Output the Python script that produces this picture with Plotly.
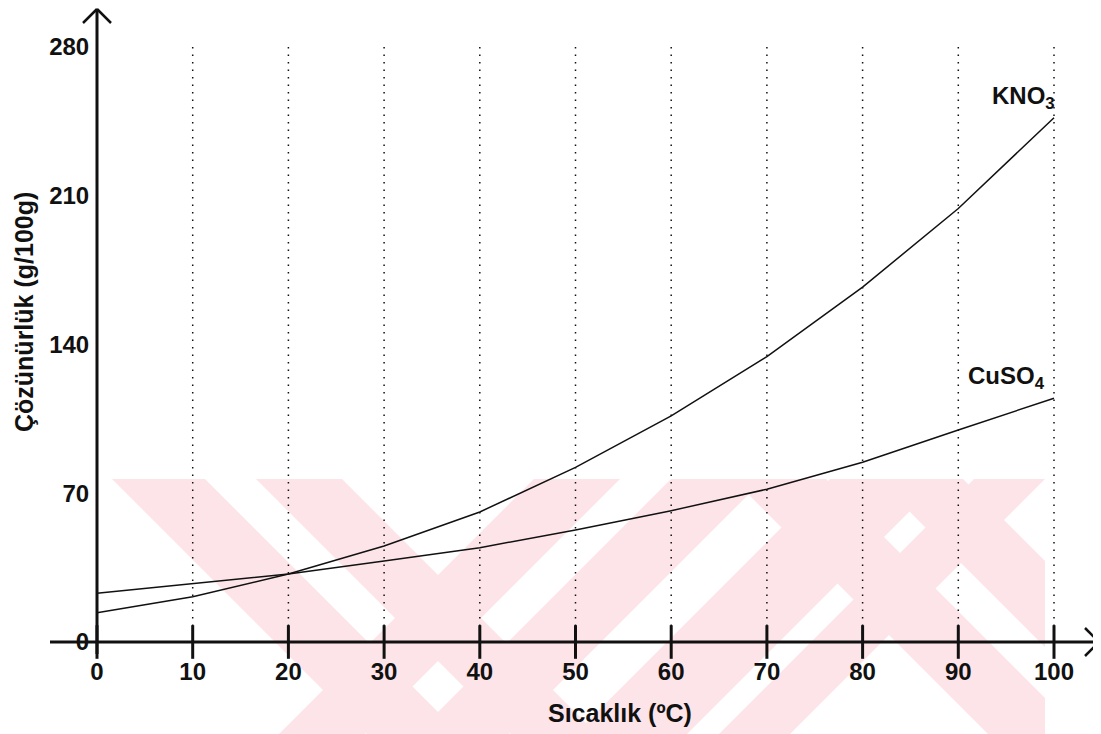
import plotly.graph_objects as go

# ---------------- data ----------------
temps = [0, 10, 20, 30, 40, 50, 60, 70, 80, 90, 100]
kno3 = [13.8, 21.3, 32.0, 45.2, 61.2, 82.2, 106.4, 134.3, 167.0, 204.0, 246.7]
cuso4 = [22.9, 27.3, 32.0, 38.1, 44.4, 52.7, 61.8, 71.9, 84.6, 99.8, 114.7]
x_ticks = [0, 10, 20, 30, 40, 50, 60, 70, 80, 90, 100]
y_ticks = [0, 70, 140, 210, 280]
grid_x = [10, 20, 30, 40, 50, 60, 70, 80, 90, 100]

# ---------------- geometry (page has an 8px body margin) ----------------
OFF = 8
W, H = 1101 - OFF, 734 - OFF
X0PX, XS = 97 - OFF, 9.57      # figure px of x=0, px per unit
Y0PX, YS = 642 - OFF, 2.125    # figure px of y=0, px per unit
xr = [-X0PX / XS, (W - X0PX) / XS]
yr = [-(H - Y0PX) / YS, Y0PX / YS]


def dx(ref_px):
    return (ref_px - OFF - X0PX) / XS


def dy(ref_py):
    return (Y0PX - (ref_py - OFF)) / YS


def px_(ref_px):
    return (ref_px - OFF) / W


def py_(ref_py):
    return 1 - (ref_py - OFF) / H


FONT = "Liberation Sans"
BLACK = "#111111"

fig = go.Figure()

# ---------------- watermark (decorative background) ----------------
def clip_poly(poly, xmin, xmax, ymin, ymax):
    def clip(pts, inside, inter):
        out = []
        for i in range(len(pts)):
            cur, prev = pts[i], pts[i - 1]
            if inside(cur):
                if not inside(prev):
                    out.append(inter(prev, cur))
                out.append(cur)
            elif inside(prev):
                out.append(inter(prev, cur))
        return out

    def ix(xc):
        return lambda p, q: (xc, p[1] + (q[1] - p[1]) * (xc - p[0]) / (q[0] - p[0]))

    def iy(yc):
        return lambda p, q: (p[0] + (q[0] - p[0]) * (yc - p[1]) / (q[1] - p[1]), yc)

    pts = poly
    for inside, inter in [(lambda p: p[0] >= xmin, ix(xmin)), (lambda p: p[0] <= xmax, ix(xmax)),
                          (lambda p: p[1] >= ymin, iy(ymin)), (lambda p: p[1] <= ymax, iy(ymax))]:
        if pts:
            pts = clip(pts, inside, inter)
    return pts


WM_T, WM_B, WM_L, WM_R = 479, 734, 112, 1045
DYW = WM_B - WM_T
SL = 1.0
# (left x at top edge, width, direction: +1 = "\", -1 = "/")
stripes = [
    (112, 93, 1), (256, 86, 1),        # first X, "\" band
    (534, 86, -1), (671, 93, -1),      # first X, "/" band
    (733, 93, 1), (877, 86, 1),        # second X, "\" band
    (830, 112, -1), (974, 71, -1),     # second X, "/" band
]
shapes = []
for a, w, d in stripes:
    poly = [(a, WM_T), (a + w, WM_T), (a + w + d * SL * DYW, WM_B), (a + d * SL * DYW, WM_B)]
    cp = clip_poly(poly, WM_L, WM_R, WM_T, WM_B)
    if len(cp) < 3:
        continue
    path = "M " + " L ".join(f"{px_(x):.5f},{py_(y):.5f}" for x, y in cp) + " Z"
    shapes.append(dict(type="path", path=path, xref="paper", yref="paper",
                       fillcolor="#fde4e8", line=dict(width=0), layer="below"))

# ---------------- dotted verticals ----------------
for gx in grid_x:
    shapes.append(dict(type="line", x0=gx, x1=gx, y0=4, y1=281, xref="x", yref="y",
                       line=dict(color=BLACK, width=1.5, dash="1.5px,6px"), layer="below"))

# ---------------- axes with open arrows ----------------
x_end = dx(1099)
shapes.append(dict(type="line", x0=dx(50), x1=x_end, y0=0, y1=0,
                   line=dict(color=BLACK, width=3)))
ah_x, ah_y = 14 / XS, 14 / YS
shapes.append(dict(type="line", x0=x_end - ah_x, y0=ah_y, x1=x_end, y1=0, line=dict(color=BLACK, width=2.5)))
shapes.append(dict(type="line", x0=x_end - ah_x, y0=-ah_y, x1=x_end, y1=0, line=dict(color=BLACK, width=2.5)))
y_end = dy(9)
shapes.append(dict(type="line", x0=0, x1=0, y0=dy(654), y1=y_end,
                   line=dict(color=BLACK, width=3)))
shapes.append(dict(type="line", x0=-ah_x, y0=y_end - ah_y, x1=0, y1=y_end, line=dict(color=BLACK, width=2.5)))
shapes.append(dict(type="line", x0=ah_x, y0=y_end - ah_y, x1=0, y1=y_end, line=dict(color=BLACK, width=2.5)))

# ---------------- traces ----------------
fig.add_trace(go.Scatter(x=temps, y=kno3, mode="lines", name="KNO3",
                         line=dict(color=BLACK, width=1.5), showlegend=False))
fig.add_trace(go.Scatter(x=temps, y=cuso4, mode="lines", name="CuSO4",
                         line=dict(color=BLACK, width=1.5), showlegend=False))
fig.add_trace(go.Scatter(x=x_ticks, y=[0] * len(x_ticks), mode="markers",
                         marker=dict(symbol="line-ns", size=24,
                                     line=dict(color=BLACK, width=3)),
                         showlegend=False, hoverinfo="skip"))

annotations = [
    dict(x=dx(1023), y=dy(97), xref="x", yref="y", text="KNO<sub>3</sub>", showarrow=False,
         xanchor="center", yanchor="middle",
         font=dict(family=FONT, size=24, color=BLACK, weight="bold")),
    dict(x=dx(1006), y=dy(377), xref="x", yref="y", text="CuSO<sub>4</sub>", showarrow=False,
         xanchor="center", yanchor="middle",
         font=dict(family=FONT, size=24, color=BLACK, weight="bold")),
    dict(x=px_(620), y=py_(713), xref="paper", yref="paper", text="Sıcaklık (ºC)",
         xanchor="center", yanchor="middle", showarrow=False,
         font=dict(family=FONT, size=25, color=BLACK, weight="bold")),
    dict(x=px_(24), y=py_(312), xref="paper", yref="paper", text="Çözünürlük (g/100g)",
         xanchor="center", yanchor="middle", textangle=-90, showarrow=False,
         font=dict(family=FONT, size=25, color=BLACK, weight="bold")),
]

fig.update_layout(
    width=W, height=H,
    margin=dict(l=0, r=0, t=0, b=0),
    paper_bgcolor="white", plot_bgcolor="white",
    shapes=shapes, annotations=annotations,
    xaxis=dict(range=xr, anchor="free", position=(H - Y0PX) / H,
               showline=False, showgrid=False, zeroline=False,
               tickmode="array", tickvals=x_ticks, ticktext=[str(v) for v in x_ticks],
               ticks="outside", ticklen=8, tickcolor="rgba(0,0,0,0)",
               tickfont=dict(family=FONT, size=24, color=BLACK, weight="bold")),
    yaxis=dict(range=yr, anchor="free", position=X0PX / W,
               showline=False, showgrid=False, zeroline=False,
               tickmode="array", tickvals=y_ticks, ticktext=[str(v) for v in y_ticks],
               ticks="outside", ticklen=3, tickcolor="rgba(0,0,0,0)",
               tickfont=dict(family=FONT, size=24, color=BLACK, weight="bold")),
)

fig.write_html("out.html")
